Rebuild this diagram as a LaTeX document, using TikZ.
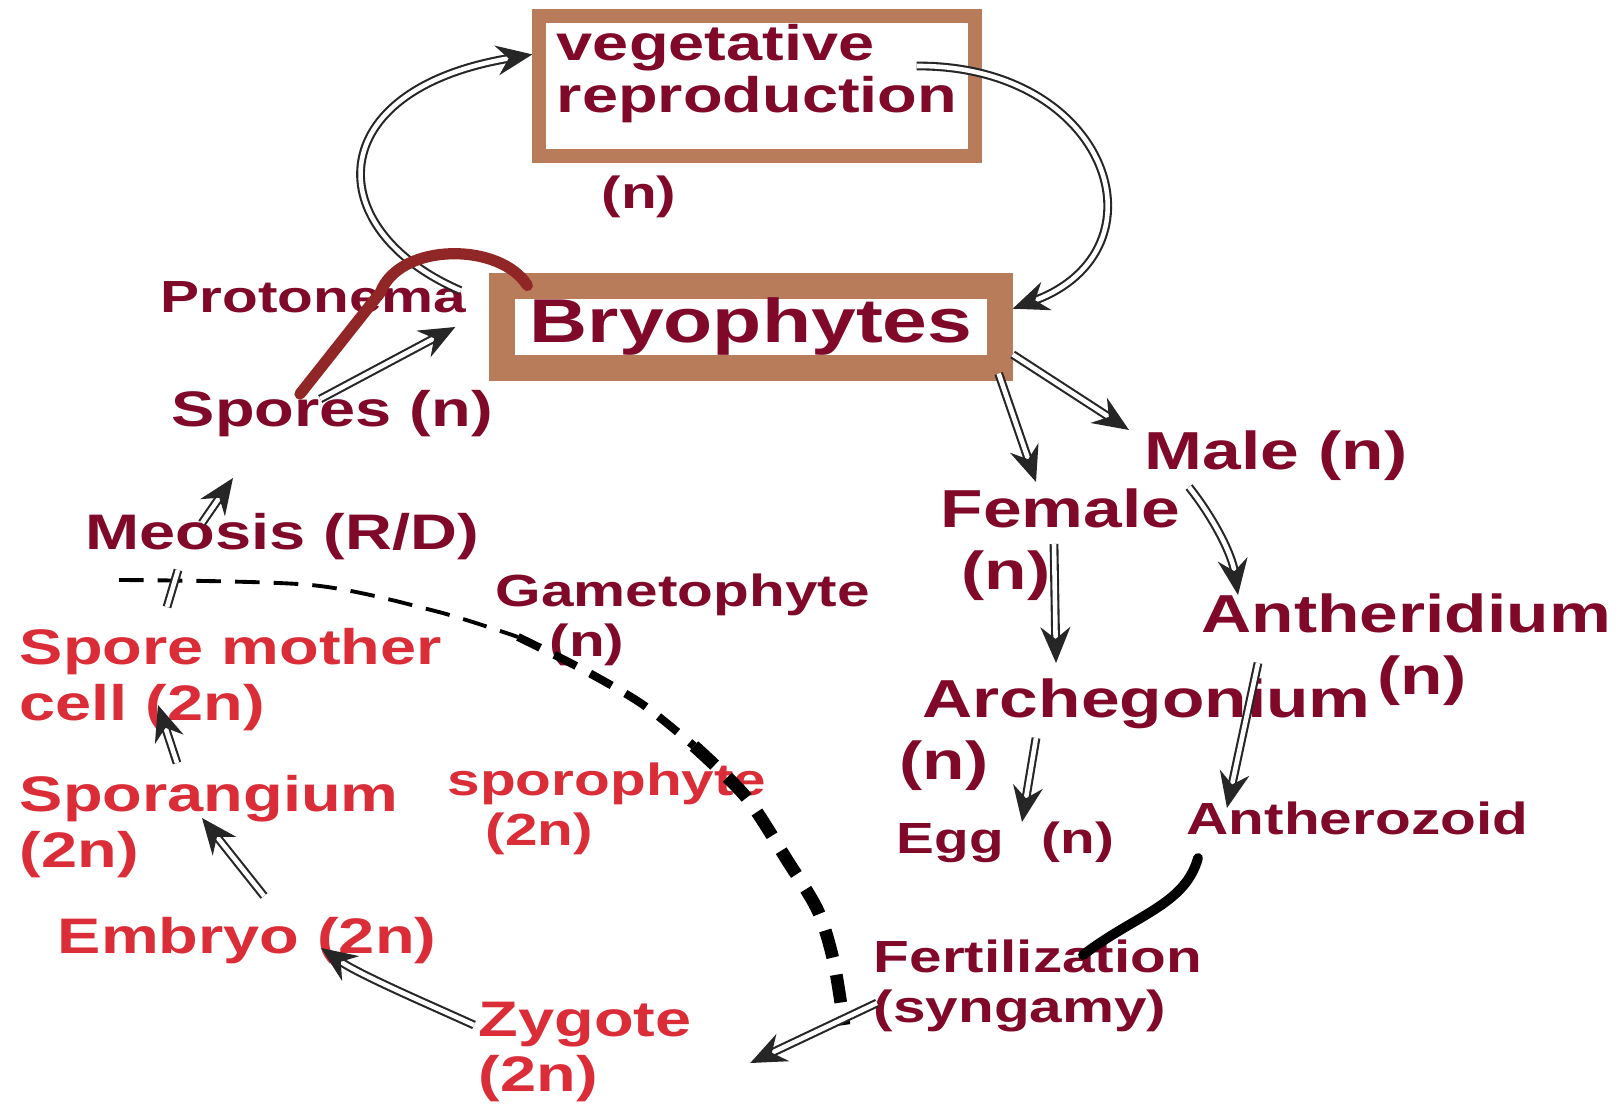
\documentclass[tikz,border=0pt]{standalone}
\usepackage{fontspec}
\setmainfont{Liberation Sans}[FakeStretch=1.3]
\usetikzlibrary{arrows.meta}
\definecolor{GameRed}{RGB}{128,8,40}
\definecolor{SporoRed}{RGB}{218,45,55}
\definecolor{FrameBrown}{RGB}{184,124,90}
\definecolor{MarkRed}{RGB}{145,38,38}
\tikzset{
  lbls/.style={font=\fontsize{12.8}{14.2}\selectfont\bfseries,text=GameRed,
    inner sep=0pt,anchor=north west,align=left},
  lblm/.style={font=\fontsize{14.2}{15.9}\selectfont\bfseries,text=GameRed,
    inner sep=0pt,anchor=north west,align=left},
  lbll/.style={font=\fontsize{15.2}{17.6}\selectfont\bfseries,text=GameRed,
    inner sep=0pt,anchor=north west,align=left},
  sporo/.style={text=SporoRed},
  framebox/.style={draw=FrameBrown,fill=white,inner sep=0pt},
  dblarrow/.style={draw=black!85,double=white,line width=0.6pt,
    double distance=1.3pt,-{Stealth[length=3.6mm,width=3mm,inset=1.2mm]}},
}

\begin{document}
\begin{tikzpicture}[x=0.01cm,y=-0.01cm]
\fill[white] (0,0) rectangle (1624,1110);
\useasboundingbox (0,0) rectangle (1624,1110);

% the two framed boxes
\node[framebox,line width=0.14cm,minimum width=4.35cm,minimum height=1.39cm,
  font=\fontsize{14.2}{14.8}\selectfont\bfseries,text=GameRed,align=left,
  text depth=0.36cm] (veg) at (757,86) {vegetative\\reproduction};
\node[framebox,line width=0.26cm,minimum width=4.97cm,minimum height=0.81cm,
  font=\fontsize{17.6}{20}\selectfont\bfseries,text=GameRed] (bryo) at (751,327) {Bryophytes};

% gametophyte side
\node[lbls,anchor=center] (vegn) at (639,197) {(n)};
\node[lbls] (proto) at (160,281) {Protonema};
\node[lblm] (spores) at (171,390) {Spores (n)};
\node[lblm] (meosis) at (85,513) {Meosis (R/D)};
\node[lbls] (gameto) at (495,573) {Gametophyte\\\hspace*{0.54cm}(n)};
\node[lbll] (male) at (1144,430) {Male (n)};
\node[lbll] (female) at (940,488) {Female\\\hspace*{0.21cm}(n)};
\node[lbll] (anther) at (1201,593) {Antheridium\\\hspace*{1.76cm}(n)};
\node[lbll] (arche) at (899,678) {\hspace*{0.23cm}Archegonium\\(n)};
\node[lbls,font=\fontsize{12.4}{14}\selectfont\bfseries] (egg) at (896,821) {Egg\hspace{0.38cm}(n)};
\node[lbls] (antherozoid) at (1186,801) {Antherozoid};
\node[lbls] (fert) at (873,939) {Fertilization\\(syngamy)};

% sporophyte side
\node[lblm,sporo] (smc) at (19,628) {Spore mother\\cell (2n)};
\node[lblm,sporo] (sporang) at (19,775) {Sporangium\\(2n)};
\node[lbls,sporo] (sporo) at (447,762) {sporophyte\\\hspace*{0.38cm}(2n)};
\node[lblm,sporo] (embryo) at (57,917) {Embryo (2n)};
\node[lblm,sporo] (zygote) at (478,1001) {Zygote\\(2n)};

% generation boundary
\draw[line width=1.1pt,dash pattern=on 7pt off 4pt]
  plot[smooth] coordinates {(119,580) (311,585) (435,611) (518,637)};
\draw[line width=2.3pt,dash pattern=on 7pt off 4.5pt]
  plot[smooth] coordinates {(518,637) (580,668) (642,704) (694,746)};
\draw[line width=3.6pt,dash pattern=on 8pt off 5pt]
  plot[smooth] coordinates {(694,746) (746,797) (787,860) (818,911) (834,963) (844,1025)};

% vegetative loop
\draw[dblarrow] ([shift={(-29,17)}]bryo.north west) .. controls (320,230) and (320,90) .. (veg.172);
\draw[dblarrow] ([shift={(-65,-20)}]veg.east) .. controls (1110,65) and (1170,250) .. (bryo.4);

% cycle
\draw[dblarrow] ([shift={(-12,9)}]spores.north) -- ([shift={(-34,0)}]bryo.west);
\draw[dblarrow] ([shift={(117,10)}]meosis.north west) -- ([shift={(62,88)}]spores.north west);
\draw[dblarrow,-] ([shift={(148,-21)}]smc.north west) -- ([shift={(93,57)}]meosis.north west);
\draw[dblarrow] ([shift={(158,-12)}]sporang.north west) -- ([shift={(139,77)}]smc.north west);
\draw[dblarrow] ([shift={(207,-21)}]embryo.north west) -- ([shift={(183,43)}]sporang.north west);
\draw[dblarrow] ([shift={(-4,24)}]zygote.north west) .. controls (430,1005) and (360,975) .. ([shift={(264,31)}]embryo.north west);
\draw[dblarrow] ([shift={(4,64)}]fert.north west) -- ([shift={(58,11)}]zygote.east);
\draw[dblarrow] (bryo.-6) -- ([shift={(-15,0)}]male.north west);
\draw[dblarrow] ([shift={(-14,-7)}]bryo.south east) -- ([shift={(96,-6)}]female.north west);
\draw[dblarrow] ([shift={(114,56)}]female.north west) -- ([shift={(157,-15)}]arche.north west);
\draw[dblarrow] ([shift={(45,57)}]male.north west) .. controls (1215,520) and (1232,555) .. ([shift={(37,2)}]anther.north west);
\draw[dblarrow] ([shift={(137,60)}]arche.north west) -- ([shift={(126,1)}]egg.north west);
\draw[dblarrow] ([shift={(57,70)}]anther.north west) -- ([shift={(41,7)}]antherozoid.north west);
\draw[line width=2.8pt,line cap=round] ([shift={(12,57)}]antherozoid.north west)
  .. controls (1185,905) and (1135,915) .. ([shift={(210,16)}]fert.north west);

% red mark over protonema
\draw[MarkRed,line width=3.2pt,line cap=round] ([shift={(129,4)}]spores.north west)
  -- ([shift={(-109,19)}]bryo.north west) .. controls (400,242) and (500,242) .. ([shift={(38,12)}]bryo.north west);
\end{tikzpicture}
\end{document}
